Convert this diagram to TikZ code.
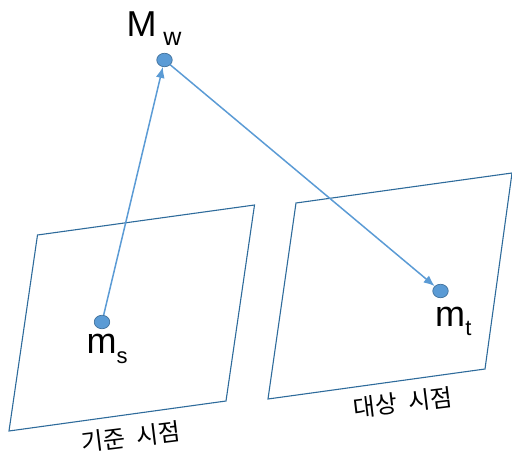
\documentclass[tikz,border=0pt]{standalone}
\usepackage{fontspec}
\setmainfont{Liberation Sans}
\newfontfamily\korfont{Noto Sans CJK KR}
\usetikzlibrary{arrows.meta, positioning, shapes.geometric}

\definecolor{dotblue}{RGB}{91,155,213}
\definecolor{dotedge}{RGB}{65,113,156}
\definecolor{planeblue}{RGB}{46,107,155}

\tikzset{
  pointdot/.style={draw=dotedge, fill=dotblue, ellipse, line width=0.7pt, minimum width=15.5pt, minimum height=13.5pt, inner sep=0pt},
  rayline/.style={draw=dotblue, line width=1.5pt, -{Latex[length=11pt,width=9pt]}},
  planeline/.style={draw=planeblue, line width=1.1pt, line join=miter},
  biglabel/.style={inner sep=0pt, font=\fontsize{36}{36}\selectfont},
  sublabel/.style={inner sep=0pt, font=\fontsize{22}{22}\selectfont},
  viewlabel/.style={inner sep=0pt, rotate=7, font=\korfont\fontsize{24}{24}\selectfont},
}

\begin{document}
\begin{tikzpicture}[x=1pt, y=-1pt]
      \useasboundingbox (0,0) rectangle (512,458);
      % image planes
      \coordinate (S1) at (37.5,235);
      \coordinate (S2) at (254.5,205);
      \coordinate (S3) at (226,401);
      \coordinate (S4) at (9,431);
      \coordinate (T1) at (296,203);
      \coordinate (T2) at (512,173);
      \coordinate (T3) at (485,369);
      \coordinate (T4) at (268,399);
      \draw[planeline] (S1) -- (S2) -- (S3) -- (S4) -- cycle;
      \draw[planeline] (T1) -- (T2) -- (T3) -- (T4) -- cycle;
      % points
      \node[pointdot] (Mw) at (164.5,60) {};
      \node[pointdot] (ms) at (102,322) {};
      \node[pointdot] (mt) at (440.5,291) {};
      \draw[rayline] (ms) -- (Mw);
      \draw[rayline] (Mw) -- (mt);
      % labels
      \node[biglabel, anchor=base] (MwL) at (141.5,36) {M};
      \node[sublabel, anchor=base, font=\fontsize{25}{25}\selectfont] (MwS) at (172.5,45) {w};
      \node[biglabel, anchor=base] (msL) at (101.5,353.5) {m};
      \node[sublabel, anchor=base] (msS) at (122,363) {s};
      \node[biglabel, anchor=base] (mtL) at (450,326) {m};
      \node[sublabel, anchor=base] (mtS) at (468.5,335) {t};
      \node[viewlabel] (src) at (131,437) {기준\hspace{6pt} 시점};
      \node[viewlabel] (tgt) at (403,402.5) {대상\hspace{6pt} 시점};
    \end{tikzpicture}
\end{document}
